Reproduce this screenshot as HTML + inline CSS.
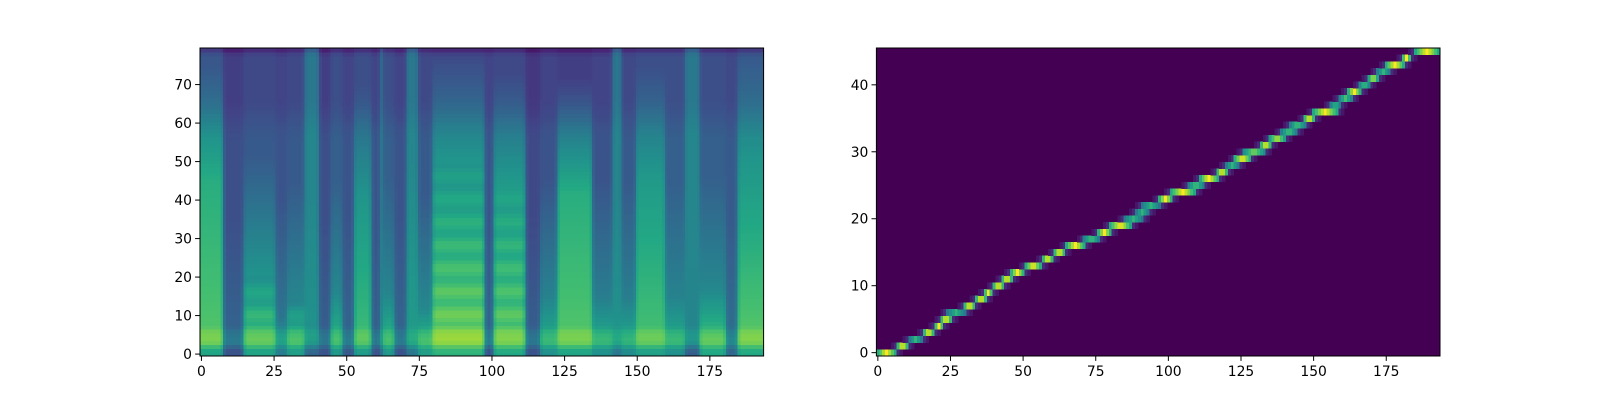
<!DOCTYPE html>
<html><head><meta charset="utf-8"><style>
html,body{margin:0;padding:0;background:#fff;}
svg text{font-family:"DejaVu Sans","Liberation Sans",sans-serif;font-size:13.9px;fill:#000;}
</style></head><body>
<svg id="fig" width="1600" height="400" viewBox="0 0 1600 400" xmlns="http://www.w3.org/2000/svg">
<rect width="1600" height="400" fill="#fff"/>
<g id="spec"></g>
<g id="align"></g>
</svg>
<script>
// ---------- Spectrogram data (segments over frames) ----------
const specFrames = 194;
const specBins = 80;
const segStart = [0,8,15,26,30,36,41,45,49,53,59,62,63,67,71,75,80,98,101,112,117,123,135,142,145,150,160,167,172,181,185];
const segEnd   = [7,14,25,29,35,40,44,48,52,58,61,62,66,70,74,79,97,100,111,116,122,134,141,144,149,159,166,171,180,184,193];
const segLo    = [.74,.42,.74,.58,.72,.48,.42,.70,.44,.70,.42,.50,.70,.42,.55,.72,.80,.42,.76,.42,.66,.74,.66,.55,.64,.72,.66,.45,.76,.50,.76];
const segMid   = [.62,.32,.50,.38,.45,.50,.30,.46,.32,.52,.30,.48,.45,.32,.52,.46,.52,.32,.55,.30,.44,.62,.42,.50,.42,.54,.44,.45,.46,.36,.52];
const segHi    = [.33,.24,.28,.26,.28,.46,.24,.30,.26,.30,.26,.44,.30,.26,.46,.28,.26,.26,.28,.22,.26,.24,.26,.46,.28,.30,.30,.46,.30,.28,.32];
const segExt   = [45,5,22,10,15,10,5,16,5,40,5,10,16,5,20,12,50,5,43,5,15,42,15,10,15,45,15,10,17,5,50];
const segHarm  = [0,0,1,0,1,0,0,0,0,0,0,0,0,0,0,0,1,0,1,0,0,0,0,0,0,0,0,0,0,0,0];
const specXTicks = [0,25,50,75,100,125,150,175];
const specYTicks = [0,10,20,30,40,50,60,70];

// ---------- Alignment data (encoder step -> attended frames) ----------
const alignFrames = 194;
const alignSteps = 46;
const alignStart = [0,7,11,16,20,22,24,30,34,37,40,43,46,51,57,61,65,71,76,80,85,89,91,97,101,107,111,117,120,123,126,132,135,139,142,147,150,156,159,162,166,169,172,175,181,185];
const alignEnd   = [6,10,15,19,22,25,30,33,37,39,43,46,50,56,60,64,71,76,80,87,91,93,97,101,109,112,117,120,124,128,133,135,140,144,147,150,158,159,163,166,169,172,176,181,183,193];
const alignPeak  = [1,1,.65,1,1,1,.65,1,1,1,1,1,1,1,1,1,1,.7,1,1,.65,.65,.65,1,1,.7,1,1,.65,1,.8,1,.9,.7,.7,1,1,.65,.7,1,.7,.9,.65,1,1,1];
const alignXTicks = [0,25,50,75,100,125,150,175];
const alignYTicks = [0,10,20,30,40];

// ---------- colormap ----------
const VIR = ["#440154","#482475","#414487","#355f8d","#2a788e","#21918c","#22a884","#44bf70","#7ad151","#bddf26","#fde725"];
function hx(c){return [parseInt(c.slice(1,3),16),parseInt(c.slice(3,5),16),parseInt(c.slice(5,7),16)];}
function viridis(v){
  v=Math.max(0,Math.min(1,v));
  const p=v*10, i=Math.min(9,Math.floor(p)), t=p-i;
  const a=hx(VIR[i]), b=hx(VIR[i+1]);
  return "rgb("+[0,1,2].map(k=>Math.round(a[k]+(b[k]-a[k])*t)).join(",")+")";
}
const NS="http://www.w3.org/2000/svg";
function mk(tag,attrs,parent){const e=document.createElementNS(NS,tag);for(const k in attrs)e.setAttribute(k,attrs[k]);parent.appendChild(e);return e;}

const AX_TOP=48, AX_H=308, AX_W=563.6;
function drawAxes(g,x0,nx,ny,xt,yt,prefix){
  const sx=f=>x0+(f+0.5)*AX_W/nx;
  const sy=r=>AX_TOP+AX_H-(r+0.5)*AX_H/ny;
  const frame=mk("rect",{x:x0,y:AX_TOP,width:AX_W,height:AX_H,fill:"none",stroke:"#000","stroke-width":1},g);
  
  
  xt.forEach(v=>{
    const x=sx(v);
    const tk=mk("line",{x1:x,x2:x,y1:AX_TOP+AX_H,y2:AX_TOP+AX_H+4.9,stroke:"#000","stroke-width":1},g);
    
    
    const t=mk("text",{x:x,y:AX_TOP+AX_H+20,"text-anchor":"middle"},g);
    t.textContent=v;
    
    
  });
  yt.forEach(v=>{
    const y=sy(v);
    const tk=mk("line",{x1:x0-4.9,x2:x0,y1:y,y2:y,stroke:"#000","stroke-width":1},g);
    
    
    const t=mk("text",{x:x0-8,y:y+5,"text-anchor":"end"},g);
    t.textContent=v;
    
    
  });
}

// ---------- spectrogram ----------
(function(){
  const g=document.getElementById("spec");
  const x0=200, cw=AX_W/specFrames, ch=AX_H/specBins;
  const M=[];
  for(let s=0;s<segStart.length;s++){
    for(let f=segStart[s];f<=segEnd[s];f++){
      const col=[];
      for(let r=0;r<specBins;r++){
        const lo=segLo[s],mid=segMid[s],hi=segHi[s],ext=segExt[s];
        let v = r<ext ? lo-(lo-mid)*(r/ext) : mid+(hi-mid)*Math.min(1,(r-ext)/30);
        if(r<=1) v-=0.16; else if(r===2) v-=0.06; else if(r<=6) v+=0.07;
        if(segHarm[s] && r<ext && r>7){
          const ph=(r-4)%6;
          v += (ph<2?0.05:(ph>=3&&ph<=4?-0.06:0)) * (1-r/ext*0.5);
        }
        const t=Math.max(0,Math.min(1,(r-55)/12));
        v -= 0.06*t*t*(3-2*t);
        if(r===79) v-=0.12;
        col.push(v);
      }
      M[f]=col;
    }
  }
  const cells=mk("g",{"shape-rendering":"crispEdges"},g);
  for(let f=0;f<specFrames;f++){
    for(let r=0;r<specBins;r++){
      const a=M[Math.max(0,f-1)][r], b=M[f][r], c=M[Math.min(specFrames-1,f+1)][r];
      const ru=Math.min(specBins-1,r+1), rd=Math.max(0,r-1);
      const v=0.6*(0.25*a+0.5*b+0.25*c)+0.2*M[f][ru]+0.2*M[f][rd];
      const e=mk("rect",{x:(x0+f*cw).toFixed(2),y:(AX_TOP+AX_H-(r+1)*ch).toFixed(2),width:(cw+0.6).toFixed(2),height:(ch+0.6).toFixed(2),fill:viridis(v)},cells);
      
      
    }
  }
  drawAxes(g,x0,specFrames,specBins,specXTicks,specYTicks,'spectrogram');
})();

// ---------- alignment ----------
(function(){
  const g=document.getElementById("align");
  const x0=876.4, cw=AX_W/alignFrames, ch=AX_H/alignSteps;
  const bg=mk("rect",{x:x0,y:AX_TOP,width:AX_W,height:AX_H,fill:viridis(0)},g);
  
  
  const cells=mk("g",{"shape-rendering":"crispEdges"},g);
  for(let s=0;s<alignSteps;s++){
    const st=alignStart[s], en=alignEnd[s], c=(st+en)/2, hw=(en-st)/2+0.5;
    for(let f=st-2;f<=en+2;f++){
      if(f<0||f>=alignFrames) continue;
      let v;
      if(f<st) v=0.12/(st-f);
      else if(f>en) v=0.12/(f-en);
      else v=alignPeak[s]*(1-0.45*Math.abs(f-c)/hw);
      const e=mk("rect",{x:(x0+f*cw).toFixed(2),y:(AX_TOP+AX_H-(s+1)*ch).toFixed(2),width:(cw+0.5).toFixed(2),height:(ch+0.3).toFixed(2),fill:viridis(v)},cells);
      
      
    }
  }
  drawAxes(g,x0,alignFrames,alignSteps,alignXTicks,alignYTicks,'alignment');
})();
</script>
</body></html>
